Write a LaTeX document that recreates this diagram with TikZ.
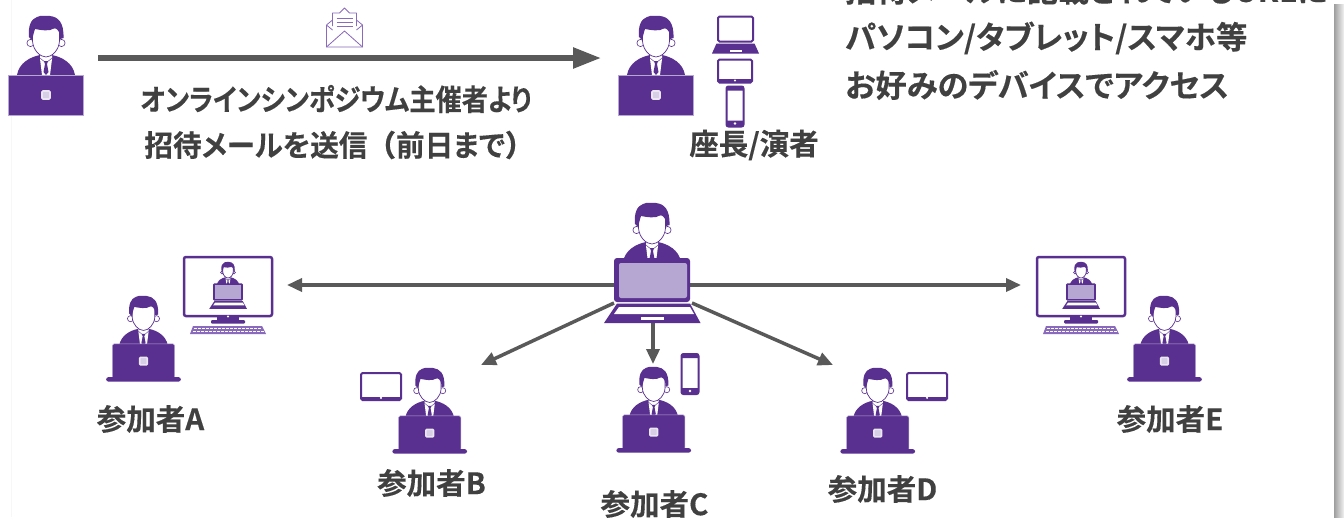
\documentclass[tikz,border=0pt]{standalone}
\usepackage{fontspec}
\usetikzlibrary{arrows.meta,shadings}
\setmainfont{Noto Sans CJK JP}[BoldFont={Noto Sans CJK JP Bold},BoldFeatures={FakeBold=0.3},RawFeature={+palt}]
\newfontfamily\nopalt{Noto Sans CJK JP Bold}[FakeBold=0.3]
\definecolor{pur}{HTML}{592F8F}
\definecolor{lpur}{HTML}{B5A7D1}
\definecolor{mpur}{HTML}{8A6ABA}
\definecolor{txt}{HTML}{404040}
\definecolor{arr}{HTML}{595959}
\newcommand{\headbust}{%
  \fill[pur] (-29,59) .. controls (-27,47) and (-16,41) .. (-6,39) -- (6,39) .. controls (16,41) and (27,47) .. (29,59) -- cycle;
  \fill[white] (-6,38) -- (6,38) -- (6,43) -- (4,59) -- (-4,59) -- (-6,43) -- cycle;
  \draw[pur,line width=.4pt] (-6,42) -- (0,47) -- (6,42);
  \fill[pur] (-2,45) -- (2,45) -- (1,48) -- (2.5,56) -- (0,59) -- (-2.5,56) -- (-1,48) -- cycle;
  \filldraw[fill=white,draw=pur,line width=.6pt] (-15.5,27) circle (3.6) (15.5,27) circle (3.6);
  \filldraw[fill=white,draw=pur,line width=.7pt] (-13.5,12) -- (-13.5,25) .. controls (-13,34) and (-6,41) .. (0,41) .. controls (6,41) and (13,34) .. (13.5,25) -- (13.5,12) -- cycle;
  \fill[pur] (-14,24) -- (-17,21) .. controls (-18,10) and (-15,3) .. (-9,1) .. controls (-5,-1) and (0,0) .. (4,0) .. controls (12,1) and (18,6) .. (17.5,22) -- (14,23) .. controls (14,17) and (13,14) .. (9,12) .. controls (3,16) and (-5,14) .. (-11,13) .. controls (-12,16) and (-13,20) .. (-14,24) -- cycle;
}
\newcommand{\hostbody}{%
  \fill[pur] (-35,100.5) -- (38,100.5) -- (48.5,120) -- (-48,120) -- cycle;
  \fill[white] (-33,104) -- (38,104) -- (42,111) -- (-38,111) -- cycle;
}
\tikzset{
 x=1pt,y=-1pt,
 lab/.style={font=\bfseries\fontsize{29.5}{34}\selectfont,text=txt,inner sep=0pt},
 big/.style={font=\bfseries\fontsize{31.3}{38}\selectfont,text=txt,inner sep=0pt,anchor=west},
 bigarrow/.style={draw=arr,line width=5.5pt,-{Triangle[length=28pt,width=20pt]}},
 thinarrow/.style={draw=arr,line width=3.5pt,-{Triangle[length=15pt,width=13pt]}},
 lapsquare/.style={draw=white!88!pur,fill=lpur!55,line width=1.6pt,rounded corners=1pt},
 person/.pic={
  \headbust
  \filldraw[fill=pur,draw=lpur,line width=.5pt] (-37.5,59) rectangle (37.5,99);
  \filldraw[lapsquare] (-4,75) rectangle (4,83);
 },
 viewer/.pic={
  \headbust
  \filldraw[fill=pur,draw=lpur,line width=.5pt,rounded corners=1.5pt] (-37,57) rectangle (37,98);
  \fill[pur,rounded corners=2.5pt] (-44.5,96.5) rectangle (44.5,102);
  \filldraw[lapsquare] (-4.5,73) rectangle (4.5,82);
 },
 hostlap/.pic={
  \headbust
  \fill[pur,rounded corners=3pt] (-38,55) rectangle (38,99);
  \fill[lpur,rounded corners=2pt] (-33,60) rectangle (35,95);
  \hostbody
  \fill[white] (-11,113.5) rectangle (12,116.5);
 },
 minihost/.pic={
  \begin{scope}[scale=.39]
  \headbust
  \fill[pur,rounded corners=1pt] (-38,55) rectangle (38,99);
  \fill[lpur] (-34,59) rectangle (34,95);
  \hostbody
  \end{scope}
 },
 monitor/.pic={
  \fill[pur] (34,61) rectangle (56,65);
  \fill[pur,rounded corners=1pt] (28,64) rectangle (62,67.5);
  \draw[pur,line width=2.5pt,rounded corners=2pt,fill=white] (1,1) rectangle (89,60);
  \fill[white] (45,60.5) circle (1.2);
  \fill[mpur] (10,70) -- (79,70) -- (83,78) -- (7,78) -- cycle;
  \draw[white,line width=1pt,dash pattern=on 3pt off 1pt] (11,72.5) -- (79,72.5) (10,75.5) -- (81,75.5);
 },
 devlaptop/.pic={
  \draw[pur,line width=2pt,rounded corners=1.5pt,fill=white] (-17.5,0) rectangle (17.5,25);
  \fill[pur] (-19,27) -- (19,27) -- (23.5,37) -- (-23.5,37) -- cycle;
  \fill[white] (-6,33.5) rectangle (6,35);
 },
 devtablet/.pic={
  \draw[pur,line width=2pt,rounded corners=1.5pt,fill=white] (-20,-13.5) rectangle (20,13.5);
  \fill[pur] (-19.5,10) rectangle (19.5,13);
  \fill[white] (0,11.3) circle (1.2);
 },
 devtabletsmall/.pic={
  \draw[pur,line width=2pt,rounded corners=1.5pt,fill=white] (-17,-11.5) rectangle (17,11.5);
  \fill[pur] (-16.5,8) rectangle (16.5,11);
  \fill[white] (0,9.5) circle (1.2);
 },
 devphone/.pic={
  \draw[pur,line width=2pt,rounded corners=2pt,fill=white] (-8.5,-20) rectangle (8.5,20);
  \fill[pur] (-8,14) rectangle (8,19.5) (-8,-19.5) rectangle (8,-16);
  \fill[white] (0,17) circle (1.3);
 },
 envelope/.pic={
  \draw[mpur,line width=.8pt,line join=round,fill=white] (-18,17) -- (-18,39) -- (18,39) -- (18,17) -- (12,12);
  \draw[mpur,line width=.8pt,line join=round] (-18,17) -- (-12,12) (-12,18) -- (-12,5) -- (-5,5) -- (0,0) -- (5,5) -- (12,5) -- (12,18) (-12,22) -- (-18,17) (12,22) -- (18,17);
  \draw[mpur,line width=.8pt,line join=round] (-18,39) -- (0,23) -- (18,39);
  \draw[mpur,line width=1pt] (-8,10) -- (8,10) (-8,14) -- (8,14) (-8,18) -- (8,18);
 },
}
\begin{document}
\begin{tikzpicture}
\useasboundingbox (0,0) rectangle (1344,517);
\clip (0,0) rectangle (1344,517);
\fill[white] (0,0) rectangle (1344,517);
\fill[black!3] (10.5,0) rectangle (11.5,517);

\coordinate (sendA) at (98,58);
\coordinate (recvA) at (601,58);
\coordinate (hostW) at (614,285);
\coordinate (hostE) at (690,285);
\coordinate (hostSW) at (614,303);
\coordinate (hostSE) at (692,303);
\coordinate (hostS) at (653,322);
\coordinate (toA) at (287,285);
\coordinate (toE) at (1021,285);
\coordinate (toB) at (481,365);
\coordinate (toD) at (833,365);
\coordinate (toC) at (653,364);

\draw[bigarrow] (sendA) -- (recvA);
\draw[thinarrow] (hostW) -- (toA);
\draw[thinarrow] (hostE) -- (toE);
\draw[thinarrow] (hostSW) -- (toB);
\draw[thinarrow] (hostSE) -- (toD);
\draw[thinarrow] (hostS) -- (toC);

\pic at (46,16) {person};
\pic at (656,16) {person};
\pic at (344.5,8) {envelope};
\pic at (735.5,16.5) {devlaptop};
\pic at (735,71) {devtabletsmall};
\pic at (735,106.5) {devphone};

\pic at (652,203) {hostlap};

\pic[scale=.84] at (143.5,296) {viewer};
\pic[scale=.84] at (429.7,368) {viewer};
\pic[scale=.84] at (653.7,367) {viewer};
\pic[scale=.84] at (877.7,368) {viewer};
\pic[scale=.84] at (1164.5,296) {viewer};

\pic at (183,256) {monitor};
\pic at (228,262) {minihost};
\pic at (1036,256) {monitor};
\pic at (1081,262) {minihost};
\pic at (381,386.5) {devtablet};
\pic at (927,386.5) {devtablet};
\pic at (690,374) {devphone};

\node[big] (t1) at (845,-10) {招待メールに記載されているURLに};
\node[big] (t2) at (845,38) {パソコン/タブレット/スマホ等};
\node[big] (t3) at (845,85) {お好みのデバイスでアクセス};
\node[lab] (s1) at (336,99) {\scalebox{.89}[1]{オンラインシンポジウム主催者より}};
\node[lab] (s2) at (339,145) {\scalebox{.97}[1]{招待メールを送信{\nopalt（}前日まで{\nopalt ）}}};
\node[lab] (chair) at (754,145) {座長/演者};
\node[lab] (la) at (150.5,419) {参加者A};
\node[lab] (lb) at (431.5,483) {参加者B};
\node[lab] (lc) at (654.5,504) {参加者C};
\node[lab] (ld) at (882.5,489) {参加者D};
\node[lab] (le) at (1170,419) {参加者E};

\shade[left color=black!38,right color=black!5] (1334,4) rectangle (1344,517);
\end{tikzpicture}
\end{document}
